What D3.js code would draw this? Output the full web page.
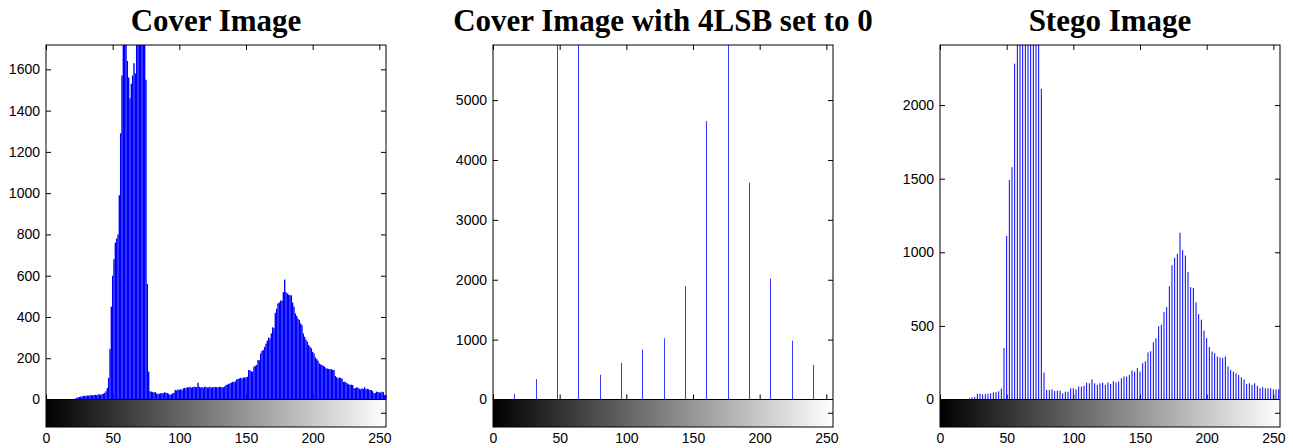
<!DOCTYPE html>
<html>
<head>
<meta charset="utf-8">
<script src="https://cdn.jsdelivr.net/npm/d3@7"></script>
<style>
  body { margin: 0; background: #fff; }
  .title { font-family: "Liberation Serif", "Times New Roman", serif; font-weight: bold; font-size: 31px; }
  .axis text { font-family: "Liberation Sans", Arial, sans-serif; font-size: 14px; fill: #000; }
  .axis line { stroke: #000; }
</style>
</head>
<body>
<svg id="chart"></svg>
<script>
// ------------------------------------------------------------
// Three grey-level histograms (imhist style) with a grey bar
// under each one: cover, cover with 4 LSB cleared, stego.
// ------------------------------------------------------------

// Cover image: one count per grey level 0..255
const coverLevels = d3.range(0, 256);
const coverCounts = [
  0,0,0,0,0,0,0,0,0,0,0,0,0,0,0,0,
  0,0,0,0,0,0,4,8,10,12,14,15,18,17,18,19,
  18,20,21,20,22,23,21,24,25,23,26,28,32,40,55,105,
  245,450,600,680,760,780,800,990,1290,1570,1760,1850,1780,1640,1560,1460,
  1530,1570,1630,1580,1800,1900,2000,1950,1900,1850,1800,1550,560,135,40,38,
  36,34,36,30,25,28,30,32,30,35,33,31,28,22,25,30,
  33,46,44,48,47,50,45,54,56,55,60,58,62,57,60,62,
  61,60,81,62,58,60,57,62,60,58,59,62,57,60,59,61,
  60,58,62,60,61,59,63,70,72,76,78,82,86,84,88,97,
  99,102,105,100,107,106,108,110,143,140,137,135,159,163,167,191,
  190,223,235,240,255,270,285,300,296,320,350,345,420,440,465,470,
  480,478,520,581,520,514,508,505,505,470,450,417,405,393,385,368,
  360,320,304,290,280,264,256,248,231,223,204,196,188,175,170,167,
  163,159,151,150,148,146,147,143,143,114,108,102,107,104,102,86,
  86,82,78,74,70,72,70,54,55,59,57,52,49,55,51,59,
  50,52,49,46,46,40,30,32,38,36,35,33,38,36,22,20
];

// Cover with 4 LSB set to 0: only multiples of 16 are left
const lsbLevels = d3.range(0, 256, 16);
const lsbCounts = [0, 93, 340, 18000, 20000, 412, 610, 835, 1022, 1890, 4650, 7100, 3620, 2020, 983, 577];

// Stego image: stems every 2 grey levels
const stegoLevels = d3.range(0, 256, 2);
const stegoCounts = [
  0,0,0,0,0,0,0,0,0,0,0,
  8,15,18,38,40,34,36,40,
  42,48,50,56,75,349,1110,1490,
  1578,2281,2900,3100,3000,2900,3000,3200,
  3500,3400,3100,2110,183,65,65,69,
  58,60,60,42,53,53,76,76,
  69,88,88,94,115,110,137,110,
  99,110,115,99,115,106,124,115,
  122,144,156,156,167,197,190,213,
  190,247,260,320,328,388,415,497,
  508,594,628,769,912,962,990,1133,
  1015,978,867,763,758,660,580,542,
  469,417,356,326,315,292,285,281,
  292,224,201,190,178,167,151,137,
  106,110,99,110,92,76,83,76,
  76,76,69,69,68
];

const xTicks = [0, 50, 100, 150, 200, 250];

const width = 1293;
const height = 448;

const svg = d3.select("#chart")
  .attr("width", width)
  .attr("height", height);

// grey ramp used by every colour bar
const grad = svg.append("defs").append("linearGradient")
  .attr("id", "greyRamp")
  .attr("x1", "0%").attr("x2", "100%")
  .attr("y1", "0%").attr("y2", "0%");
grad.append("stop").attr("offset", "0%").attr("stop-color", "#000");
grad.append("stop").attr("offset", "100%").attr("stop-color", "#fff");

const plotTop = 45;
const zeroY = 399.5;
const barBottom = 427;
const plotW = 340;
const fmt = d3.format("d");

function drawPanel(opt) {
  const left = opt.left;
  const x = d3.scaleLinear().domain([0, 255]).range([left, left + plotW]);
  const y = d3.scaleLinear().domain([0, opt.yMax]).range([zeroY, plotTop]).clamp(true);

  const g = svg.append("g");

  // title
  g.append("text")
    .attr("class", "title")
    .attr("x", left + plotW / 2)
    .attr("y", 31)
    .attr("text-anchor", "middle")
    .text(opt.title);

  // inward ticks on all four sides of the histogram box
  const leftAxis = g.append("g")
    .attr("class", "axis")
    .attr("transform", `translate(${left},0)`)
    .call(d3.axisLeft(y).tickValues(opt.yTicks).tickFormat(fmt)
      .tickSizeInner(-5).tickSizeOuter(0).tickPadding(6));
  leftAxis.select(".domain").remove();

  g.append("g")
    .attr("class", "axis")
    .attr("transform", `translate(${left + plotW},0)`)
    .call(d3.axisRight(y).tickValues(opt.yTicks).tickSizeInner(-5).tickSizeOuter(0).tickFormat(""))
    .select(".domain").remove();

  g.append("g")
    .attr("class", "axis")
    .attr("transform", `translate(0,${plotTop})`)
    .call(d3.axisTop(x).tickValues(xTicks).tickSizeInner(-5).tickSizeOuter(0).tickFormat(""))
    .select(".domain").remove();

  g.append("g")
    .attr("class", "axis")
    .attr("transform", `translate(0,${zeroY})`)
    .call(d3.axisBottom(x).tickValues(xTicks).tickSizeInner(-5).tickSizeOuter(0).tickFormat(""))
    .select(".domain").remove();

  // stems
  const pts = opt.levels.map((lv, i) => ({ lv: lv, c: opt.counts[i] })).filter(d => d.c > 0);
  const sx = d => opt.snap ? Math.round(x(d.lv)) + 0.5 : x(d.lv);
  g.selectAll(".stem")
    .data(pts)
    .enter()
    .append("line")
    .attr("class", "stem")
    .attr("x1", sx)
    .attr("x2", sx)
    .attr("y1", y(0))
    .attr("y2", d => y(d.c))
    .attr("stroke", opt.color)
    .attr("stroke-width", opt.stemW);

  // grey colour bar under the histogram
  g.append("rect")
    .attr("x", left)
    .attr("y", zeroY)
    .attr("width", plotW)
    .attr("height", barBottom - zeroY)
    .attr("fill", "url(#greyRamp)");

  // box round histogram + bar
  g.append("rect")
    .attr("x", left)
    .attr("y", plotTop)
    .attr("width", plotW)
    .attr("height", barBottom - plotTop)
    .attr("fill", "none")
    .attr("stroke", "#000")
    .attr("stroke-width", 1);
  g.append("line")
    .attr("x1", left).attr("x2", left + plotW)
    .attr("y1", zeroY).attr("y2", zeroY)
    .attr("stroke", "#000");

  // small tick on the bar's right edge
  const midBar = (zeroY + barBottom) / 2;
  g.append("line")
    .attr("x1", left + plotW - 5).attr("x2", left + plotW)
    .attr("y1", midBar).attr("y2", midBar)
    .attr("stroke", "#000");

  // grey level labels under the bar
  const bottomAxis = g.append("g")
    .attr("class", "axis")
    .attr("transform", `translate(0,${barBottom})`)
    .call(d3.axisBottom(x).tickValues(xTicks).tickSize(0).tickPadding(6));
  bottomAxis.select(".domain").remove();
}

drawPanel({
  left: 46, title: "Cover Image",
  levels: coverLevels, counts: coverCounts,
  yMax: 1718, yTicks: [0, 200, 400, 600, 800, 1000, 1200, 1400, 1600],
  stemW: 1.4, color: "#0000ff", snap: false
});

drawPanel({
  left: 493, title: "Cover Image with 4LSB set to 0",
  levels: lsbLevels, counts: lsbCounts,
  yMax: 5920, yTicks: [0, 1000, 2000, 3000, 4000, 5000],
  stemW: 1, color: "#3a3aff", snap: true
});

drawPanel({
  left: 940, title: "Stego Image",
  levels: stegoLevels, counts: stegoCounts,
  yMax: 2408, yTicks: [0, 500, 1000, 1500, 2000],
  stemW: 1, color: "#0000ff", snap: false
});
</script>
</body>
</html>
